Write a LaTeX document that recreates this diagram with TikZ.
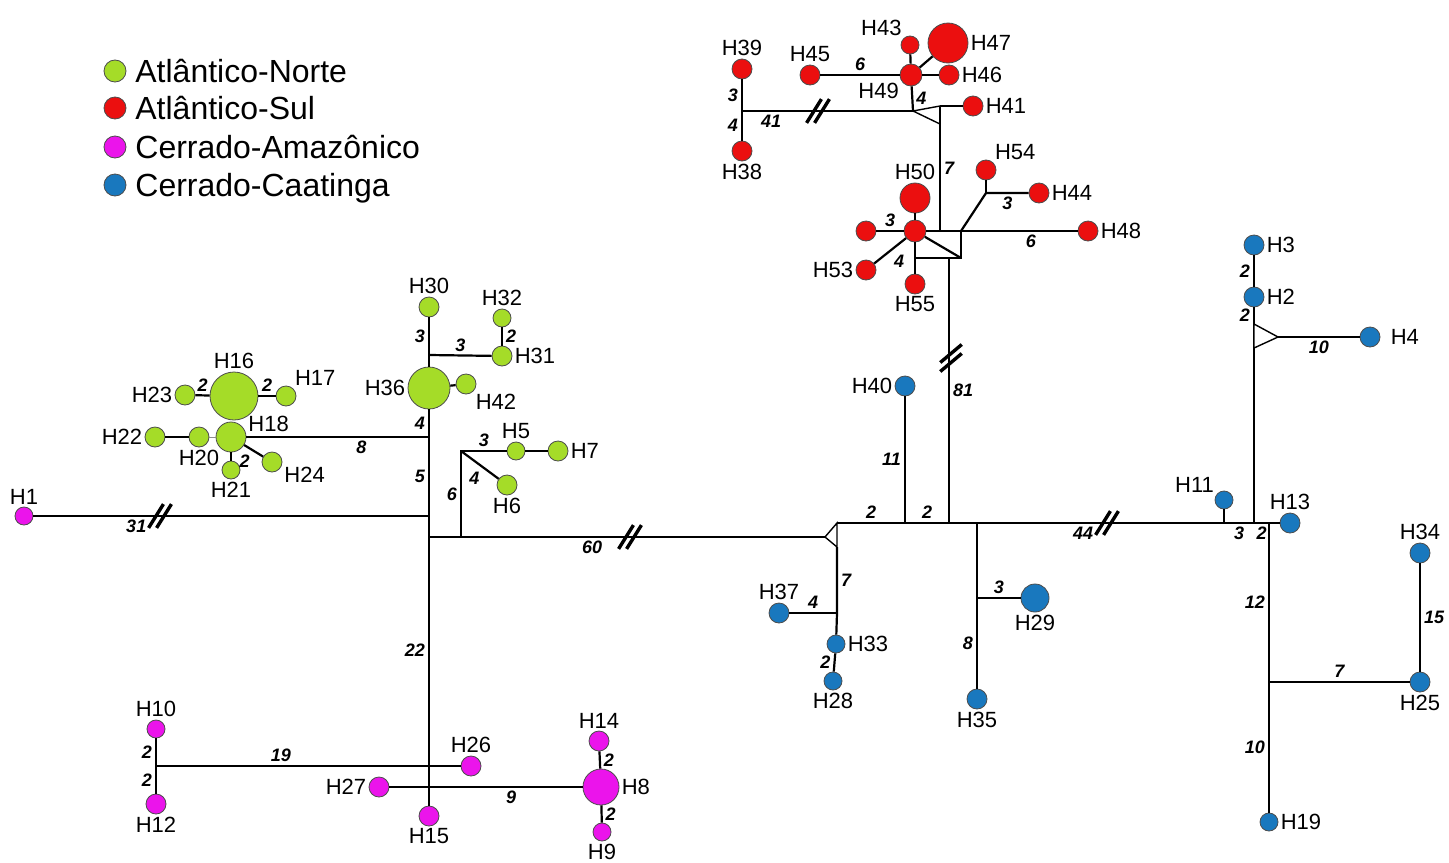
\documentclass[tikz,border=0pt]{standalone}
\usepackage{fontspec}
\setmainfont{Liberation Sans}
\usepackage{tikz}
\usetikzlibrary{calc}
\definecolor{atlN}{RGB}{165,220,40}
\definecolor{atlS}{RGB}{235,15,15}
\definecolor{cerA}{RGB}{235,20,235}
\definecolor{cerC}{RGB}{25,120,190}
\tikzset{
  hap/.style  = {circle, draw=black!70, line width=0.4pt, inner sep=0pt,
                 minimum size=#1pt},
  hap/.default = 10,
  an/.style   = {hap=#1, fill=atlN}, an/.default = 10,
  as/.style   = {hap=#1, fill=atlS}, as/.default = 10,
  ca/.style   = {hap=#1, fill=cerA}, ca/.default = 10,
  cc/.style   = {hap=#1, fill=cerC}, cc/.default = 10,
  lbl/.style  = {font=\fontsize{11}{12}\selectfont, inner sep=1pt},
  leg/.style  = {font=\fontsize{16}{18}\selectfont, inner sep=0pt, anchor=base west},
  mut/.style  = {font=\fontsize{9}{10}\selectfont\bfseries\itshape, inner sep=1.5pt},
  link/.style = {line width=1.1pt},
  tri/.style  = {line width=0.7pt, fill=white},
  brk/.style  = {line width=1.7pt},
}
\newcommand{\cutmark}[3]{%
  \draw[brk] ($(#1)+#3$) ++(#2:-14) -- ++(#2:28);
  \draw[brk] ($(#1)-#3$) ++(#2:-14) -- ++(#2:28);}

\begin{document}
\begin{tikzpicture}[x=0.5pt, y=-0.5pt]
\useasboundingbox (0,0) rectangle (1449,862);
% ---------------- legend ----------------
\node[an=11] (kN) at (115,71) {};
\node[leg] (tN) at (135,82.5) {Atlântico-Norte};
\node[as=11] (kS) at (115,108) {};
\node[leg] (tS) at (135,119.5) {Atlântico-Sul};
\node[ca=11] (kA) at (115,147) {};
\node[leg] (tA) at (135,158.5) {Cerrado-Amazônico};
\node[cc=11] (kC) at (115,185) {};
\node[leg] (tC) at (135,196.5) {Cerrado-Caatinga};
% ---------------- haplotypes ----------------
% Atlantico-Norte
\node[an, label={[lbl]above:H30}] (h30) at (429,307) {};
\node[an=21, label={[lbl]left:H36}] (h36) at (429,388) {};
\node[an, label={[lbl]below right:H42}] (h42) at (466,384) {};
\node[an, label={[lbl]right:H31}] (h31) at (502,356) {};
\node[an=9, label={[lbl]above:H32}] (h32) at (502,318) {};
\node[an=24, label={[lbl]above:H16}] (h16) at (234,396) {};
\node[an, label={[lbl]left:H23}] (h23) at (185,395) {};
\node[an, label={[lbl]50:H17}] (h17) at (286,396) {};
\node[an=15, label={[lbl]12:H18}] (h18) at (231,437) {};
\node[an, label={[lbl]below:H20}] (h20) at (199,437) {};
\node[an, label={[lbl]left:H22}] (h22) at (155,437) {};
\node[an=9, label={[lbl]below:H21}] (h21) at (231,470) {};
\node[an, label={[lbl]-15:H24}] (h24) at (272,462) {};
\node[an=9, label={[lbl]above:H5}] (h5) at (516,451) {};
\node[an, label={[lbl]right:H7}] (h7) at (558,451) {};
\node[an, label={[lbl]below:H6}] (h6) at (507,485) {};
% Cerrado-Amazonico
\node[ca=9, label={[lbl]above:H1}] (h1) at (24,516) {};
\node[ca=9, label={[lbl]above:H10}] (h10) at (156,729) {};
\node[ca, label={[lbl]below:H12}] (h12) at (156,804) {};
\node[ca, label={[lbl]above:H26}] (h26) at (471,766) {};
\node[ca, label={[lbl]left:H27}] (h27) at (379,787) {};
\node[ca=18, label={[lbl]right:H8}] (h8) at (601,787) {};
\node[ca, label={[lbl]above:H14}] (h14) at (599,741) {};
\node[ca=9, label={[lbl]below:H9}] (h9) at (602,832) {};
\node[ca, label={[lbl]below:H15}] (h15) at (429,816) {};
% Cerrado-Caatinga
\node[cc, label={[lbl]left:H40}] (h40) at (905,386) {};
\node[cc, label={[lbl]above:H37}] (h37) at (779,613) {};
\node[cc=9, label={[lbl]right:H33}] (h33) at (836,644) {};
\node[cc=9, label={[lbl]below:H28}] (h28) at (833,681) {};
\node[cc, label={[lbl]below:H35}] (h35) at (977,699) {};
\node[cc=14, label={[lbl]below:H29}] (h29) at (1035,598) {};
\node[cc, label={[lbl]right:H3}] (h3) at (1254,245) {};
\node[cc, label={[lbl]right:H2}] (h2) at (1254,297) {};
\node[cc, label={[lbl,label distance=4pt]right:H4}] (h4) at (1370,337) {};
\node[cc=9, label={[lbl]145:H11}] (h11) at (1224,500) {};
\node[cc, label={[lbl]above:H13}] (h13) at (1290,523) {};
\node[cc=9, label={[lbl]right:H19}] (h19) at (1269,822) {};
\node[cc, label={[lbl]below:H25}] (h25) at (1420,682) {};
\node[cc, label={[lbl]above:H34}] (h34) at (1420,553) {};
% Atlantico-Sul
\node[as, label={[lbl]above:H39}] (h39) at (742,69) {};
\node[as, label={[lbl]below:H38}] (h38) at (742,151) {};
\node[as, label={[lbl]above:H45}] (h45) at (810,75) {};
\node[as=11, label={[lbl]210:H49}] (h49) at (911,75) {};
\node[as=9, label={[lbl]130:H43}] (h43) at (910,45) {};
\node[as=20, label={[lbl]right:H47}] (h47) at (948,43) {};
\node[as, label={[lbl]right:H46}] (h46) at (949,75) {};
\node[as, label={[lbl]right:H41}] (h41) at (973,106) {};
\node[as=15, label={[lbl]above:H50}] (h50) at (915,198) {};
\node[as=11] (hc) at (915,231) {};
\node[as] (hl) at (866,231) {};
\node[as, label={[lbl]left:H53}] (h53) at (866,270) {};
\node[as, label={[lbl]below:H55}] (h55) at (915,284) {};
\node[as, label={[lbl]50:H54}] (h54) at (986,170) {};
\node[as, label={[lbl]right:H44}] (h44) at (1039,193) {};
\node[as, label={[lbl]right:H48}] (h48) at (1088,231) {};
% ---------------- median vectors ----------------
\coordinate (jA) at (429,355);
\coordinate (jB) at (429,437);
\coordinate (jC) at (429,516);
\coordinate (jD) at (429,537);
\coordinate (jE) at (461,537);
\coordinate (jF) at (461,451);
\coordinate (m1) at (156,766);
\coordinate (t1) at (825,537);
\coordinate (t2) at (837,523);
\coordinate (t3) at (837,547);
\coordinate (k1) at (905,523);
\coordinate (k2) at (949,523);
\coordinate (k3) at (977,523);
\coordinate (k4) at (1224,523);
\coordinate (k5) at (1254,523);
\coordinate (k6) at (1269,523);
\coordinate (k7) at (837,613);
\coordinate (k8) at (977,598);
\coordinate (k9) at (1269,682);
\coordinate (u1) at (1254,324);
\coordinate (u2) at (1278,337);
\coordinate (u3) at (1254,348);
\coordinate (r1) at (742,111);
\coordinate (r2) at (913,111);
\coordinate (r3) at (940,106);
\coordinate (r4) at (940,124);
\coordinate (r5) at (940,231);
\coordinate (r6) at (961,231);
\coordinate (r7) at (961,258);
\coordinate (r8) at (915,258);
\coordinate (r9) at (949,258);
\coordinate (r10) at (986,193);
% ---------------- links ----------------
% north cluster
\draw[link] (h30) -- node[mut,left]{3} (jA) -- (h36);
\draw[link] (jA) -- node[mut,above]{3} (h31);
\draw[link] (h32) -- node[mut,right]{2} (h31);
\draw[link] (h36) -- (h42);
\draw[link] (h36) -- node[mut,left]{4} (jB) -- node[mut,left]{5} (jC) -- (jD)
   -- node[mut,left,pos=0.42]{22} (h15);
\draw[link] (h18) -- node[mut,below,pos=0.63]{8} (jB);
\draw[link] (h23) -- node[mut,above]{2} (h16);
\draw[link] (h16) -- node[mut,above]{2} (h17);
\draw[thin, black!45] (h20) -- (h18);
\draw[link] (h22) -- (h20);
\draw[link] (h18) -- (h21);
\draw[link] (h18) -- node[mut,below left]{2} (h24);
\draw[link] (jE) -- node[mut,left]{6} (jF) -- node[mut,above]{3} (h5);
\draw[link] (h5) -- (h7);
\draw[link] (jF) -- node[mut,below left,pos=0.6]{4} (h6);
\draw[link] (h1) -- node[mut,below,pos=0.26]{31} (jC);
\draw[link] (jD) -- (jE) -- node[mut,below,pos=0.36]{60} (t1);
% amazonico
\draw[link] (h10) -- node[mut,left]{2} (m1) -- node[mut,left]{2} (h12);
\draw[link] (m1) -- node[mut,above,pos=0.41]{19} (h26);
\draw[link] (h27) -- node[mut,below,pos=0.63]{9} (h8);
\draw[link] (h14) -- node[mut,right]{2} (h8) -- node[mut,right]{2} (h9);
% caatinga
\draw[tri] (t1) -- (t2) -- (t3) -- cycle;
\draw[link] (t2) -- node[mut,above]{2} (k1) -- node[mut,above]{2} (k2) -- (k3)
   -- node[mut,below,pos=0.43]{44} (k4) -- node[mut,below]{3} (k5)
   -- node[mut,below]{2} (k6) -- (h13);
\draw[link] (h11) -- (k4);
\draw[link] (h40) -- node[mut,left]{11} (k1);
\draw[link] (t3) -- node[mut,right]{7} (k7) -- (h33);
\draw[link] (k7) -- node[mut,above]{4} (h37);
\draw[link] (h33) -- node[mut,left]{2} (h28);
\draw[link] (k3) -- (k8) -- node[mut,left]{8} (h35);
\draw[link] (k8) -- node[mut,above]{3} (h29);
\draw[link] (k2) -- node[mut,right]{81} (r9);
\draw[link] (h3) -- node[mut,left]{2} (h2) -- node[mut,left]{2} (u1) -- (k5);
\draw[tri] (u1) -- (u2) -- (u3) -- cycle;
\draw[link] (u2) -- node[mut,below]{10} (h4);
\draw[link] (k6) -- node[mut,left]{12} (k9) -- node[mut,left]{10} (h19);
\draw[link] (k9) -- node[mut,above]{7} (h25);
\draw[link] (h34) -- node[mut,right]{15} (h25);
% sul
\draw[link] (h39) -- node[mut,left]{3} (r1) -- node[mut,left]{4} (h38);
\draw[link] (r1) -- node[mut,below,pos=0.17]{41} (r2);
\draw[tri] (r2) -- (r3) -- (r4) -- cycle;
\draw[link] (r2) -- node[mut,right]{4} (h49);
\draw[link] (h45) -- node[mut,above]{6} (h49);
\draw[link] (h49) -- (h43);
\draw[link] (h49) -- (h47);
\draw[link] (h49) -- (h46);
\draw[link] (r3) -- (h41);
\draw[link] (r3) -- node[mut,right]{7} (r5);
\draw[link] (hc) -- (h50);
\draw[link] (hl) -- node[mut,above]{3} (hc);
\draw[link] (hc) -- node[mut,below right]{4} (h53);
\draw[link] (hc) -- (r8) -- (h55);
\draw[link] (hc) -- (r5) -- (r6) -- node[mut,below,pos=0.6]{6} (h48);
\draw[link] (r6) -- (r7) -- (r9) -- (r8);
\draw[link] (hc) -- (r7);
\draw[link] (r6) -- (r10) -- node[mut,below]{3} (h44);
\draw[link] (h54) -- (r10);
% breaks
\coordinate (b1) at (160,516);
\coordinate (b2) at (630,537);
\coordinate (b3) at (1107,523);
\coordinate (b4) at (818,111);
\coordinate (b5) at (951,358);
\cutmark{b1}{-58}{(4,0)}
\cutmark{b2}{-58}{(4,0)}
\cutmark{b3}{-58}{(4,0)}
\cutmark{b4}{-58}{(4,0)}
\cutmark{b5}{-40}{(0,4.5)}
\end{tikzpicture}
\end{document}
